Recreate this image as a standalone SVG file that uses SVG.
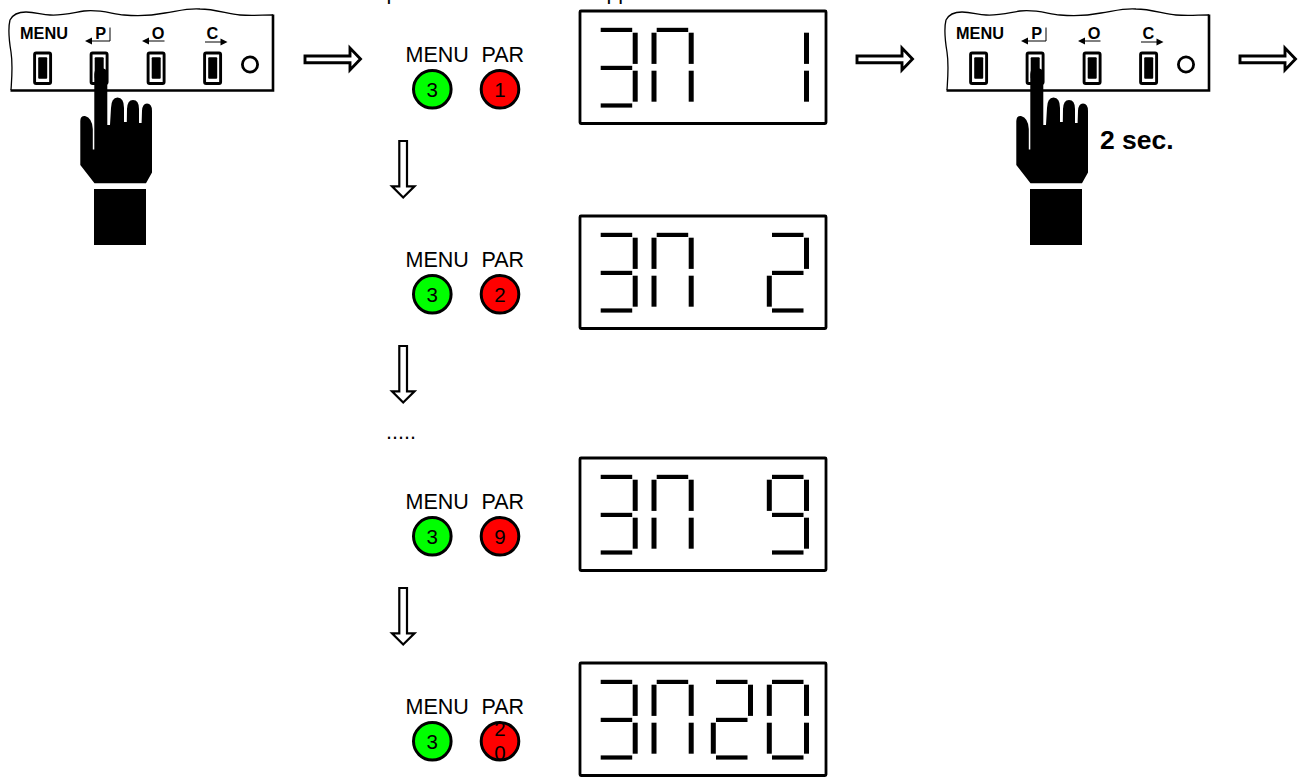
<svg xmlns="http://www.w3.org/2000/svg" width="1306" height="777" viewBox="0 0 1306 777">
<style>
text{font-family:"Liberation Sans",Arial,sans-serif;fill:#000}
.lbl{font-size:21.5px}
.num{font-size:20.5px;text-anchor:middle}
.pt{font-size:16.3px;font-weight:700}
.ptc{font-size:16.3px;font-weight:700;text-anchor:middle}
.outline{fill:none;stroke:#000;stroke-width:1.3}
.edge{fill:none;stroke:#000;stroke-width:2.6}
.thin{fill:none;stroke:#000;stroke-width:1}
.btn{fill:#fff;stroke:#000;stroke-width:2.9}
.led{stroke:#000;stroke-width:3}
.disp{fill:#fff;stroke:#000;stroke-width:2.8}
.blk{fill:#fff;stroke:#000;stroke-width:2.9;stroke-linejoin:miter}
.blkd{fill:#fff;stroke:#000;stroke-width:2.2;stroke-linejoin:miter}
</style>
<defs>
<rect id="T" x="0" y="27.8" width="31.5" height="4.2"/>
<rect id="M" x="0" y="65.8" width="31.5" height="4.2"/>
<rect id="B" x="0" y="103.4" width="31.5" height="4.2"/>
<rect id="UL" x="-5.2" y="32.7" width="5" height="31.2"/>
<rect id="LL" x="-5.2" y="70.7" width="5" height="31"/>
<rect id="UR" x="32" y="32.7" width="5" height="31.2"/>
<rect id="LR" x="32" y="70.7" width="5" height="31"/>
<g id="d3"><use href="#T"/><use href="#UR"/><use href="#M"/><use href="#LR"/><use href="#B"/></g>
<g id="dn"><use href="#T"/><use href="#UL"/><use href="#UR"/><use href="#LL"/><use href="#LR"/></g>
<g id="d1"><use href="#UR"/><use href="#LR"/></g>
<g id="d2"><use href="#T"/><use href="#UR"/><use href="#M"/><use href="#LL"/><use href="#B"/></g>
<g id="d9"><use href="#T"/><use href="#UL"/><use href="#UR"/><use href="#M"/><use href="#LR"/><use href="#B"/></g>
<g id="d0"><use href="#T"/><use href="#UL"/><use href="#UR"/><use href="#LL"/><use href="#LR"/><use href="#B"/></g>
<g id="frame"><rect class="disp" x="580" y="11" width="246" height="112.5" rx="1"/><use href="#d3" x="600.7"/><use href="#dn" x="656.7"/></g>
<g id="panel-art">
<path class="outline" d="M11,90 C12,75 13,65 11,52 C9,40 8,28 10,20 C13,14 20,12 26,12 C36,12 42,15 50,15 C60,16 72,13 84,11 C100,9 112,14 124,15 C135,16 150,16 165,13 C178,11 188,8 200,9 C215,9 228,14 240,15 C252,16 262,15 273,15"/>
<path class="edge" d="M273,14.5 V90.5 H10.5"/>
<g id="btn-art"><rect class="btn" x="34.6" y="53" width="16" height="30.5" rx="1.5"/><rect x="38.2" y="57.3" width="9" height="21.5" rx="1"/></g>
<use href="#btn-art" x="56.5"/><use href="#btn-art" x="113.5"/><use href="#btn-art" x="170"/>
<circle cx="250" cy="64.5" r="7.6" fill="#fff" stroke="#000" stroke-width="2.8"/>
<path class="thin" d="M90,41 H110 V27.5"/><path d="M85,41 L92,37.6 V44.4 Z"/>
<path class="thin" d="M148,41 H164.5"/><path d="M142,41 L149,37.6 V44.4 Z"/>
<path class="thin" d="M205,42 H221.5"/><path d="M227.5,42 L220.5,38.6 V45.4 Z"/>
</g>
<g id="hand-art">
<path d="M94.5,183.3 L80.3,165 V121 Q80.3,115.7 85,116 Q92.3,118 92.8,129 V149.5 H94.3 V74 Q94.3,68 100.8,68 Q107.3,68 107.3,74 V125 H110 L111,108 Q111.3,97.5 117.5,97.5 Q124,97.5 124,108 V122 H126.8 L127,109 Q127.3,100 133,100 Q139,100 139,109 V123 H141.6 L142,111 Q142.3,103.5 147,103.5 Q152,103.5 152,111 V172.5 L146,183.3 Z"/>
<rect x="94" y="189" width="52" height="56"/>
</g>
<path id="block-r" class="blk" d="M305,56 H350 V48 L360.5,59 L350,70 V62.7 H305 Z"/>
<path id="block-d" class="blkd" d="M399.3,141 H407 V186.3 H414.5 L403.2,197.5 L392,186.3 H399.3 Z"/>
</defs>

<text id="top-fragments" class="lbl" y="-1"><tspan x="386.6">p</tspan><tspan x="606.4">pp</tspan></text>

<g id="panel-1">
<use href="#panel-art"/>
<text class="pt" x="20" y="39">MENU</text>
<text class="ptc" x="100.7" y="39">P</text>
<text class="ptc" x="158" y="39">O</text>
<text class="ptc" x="212.3" y="39">C</text>
<use href="#hand-art"/>
</g>

<g id="panel-2">
<use href="#panel-art" x="936"/>
<text class="pt" x="956" y="39">MENU</text>
<text class="ptc" x="1036.7" y="39">P</text>
<text class="ptc" x="1094" y="39">O</text>
<text class="ptc" x="1148.3" y="39">C</text>
<use href="#hand-art" x="936"/>
<text x="1100" y="148.5" font-size="26.5" font-weight="700">2 sec.</text>
</g>

<g id="connectors">
<use href="#block-r"/>
<use href="#block-r" x="552"/>
<use href="#block-r" x="935"/>
<use href="#block-d"/>
<use href="#block-d" y="205"/>
<use href="#block-d" y="447"/>
</g>

<g id="row-1">
<text class="lbl" x="405.5" y="61.5">MENU</text><text class="lbl" x="481.5" y="61.5">PAR</text>
<circle class="led" cx="432.3" cy="89.3" r="18.8" fill="#00ff00"/><circle class="led" cx="500" cy="89.3" r="18.8" fill="#ff0000"/>
<text class="num" x="432.3" y="96.5">3</text><text class="num" x="500" y="96.5">1</text>
<use href="#frame"/><use href="#d1" x="772"/>
</g>
<g id="row-2">
<text class="lbl" x="405.5" y="266.5">MENU</text><text class="lbl" x="481.5" y="266.5">PAR</text>
<circle class="led" cx="432.3" cy="294.3" r="18.8" fill="#00ff00"/><circle class="led" cx="500" cy="294.3" r="18.8" fill="#ff0000"/>
<text class="num" x="432.3" y="301.5">3</text><text class="num" x="500" y="301.5">2</text>
<use href="#frame" y="205"/><use href="#d2" x="772" y="205"/>
</g>
<text id="ellipsis" class="lbl" x="386" y="439">.....</text>
<g id="row-3">
<text class="lbl" x="405.5" y="508.5">MENU</text><text class="lbl" x="481.5" y="508.5">PAR</text>
<circle class="led" cx="432.3" cy="536.3" r="18.8" fill="#00ff00"/><circle class="led" cx="500" cy="536.3" r="18.8" fill="#ff0000"/>
<text class="num" x="432.3" y="543.5">3</text><text class="num" x="500" y="543.5">9</text>
<use href="#frame" y="447"/><use href="#d9" x="772" y="447"/>
</g>
<g id="row-4">
<text class="lbl" x="405.5" y="713.5">MENU</text><text class="lbl" x="481.5" y="713.5">PAR</text>
<circle class="led" cx="432.3" cy="741.3" r="18.8" fill="#00ff00"/><circle class="led" cx="500" cy="741.3" r="18.8" fill="#ff0000"/>
<text class="num" x="432.3" y="748.5">3</text><text class="num"><tspan x="500" y="736">2</tspan><tspan x="500" y="760">0</tspan></text>
<use href="#frame" y="652"/><use href="#d2" x="716" y="652"/><use href="#d0" x="772" y="652"/>
</g>
</svg>
